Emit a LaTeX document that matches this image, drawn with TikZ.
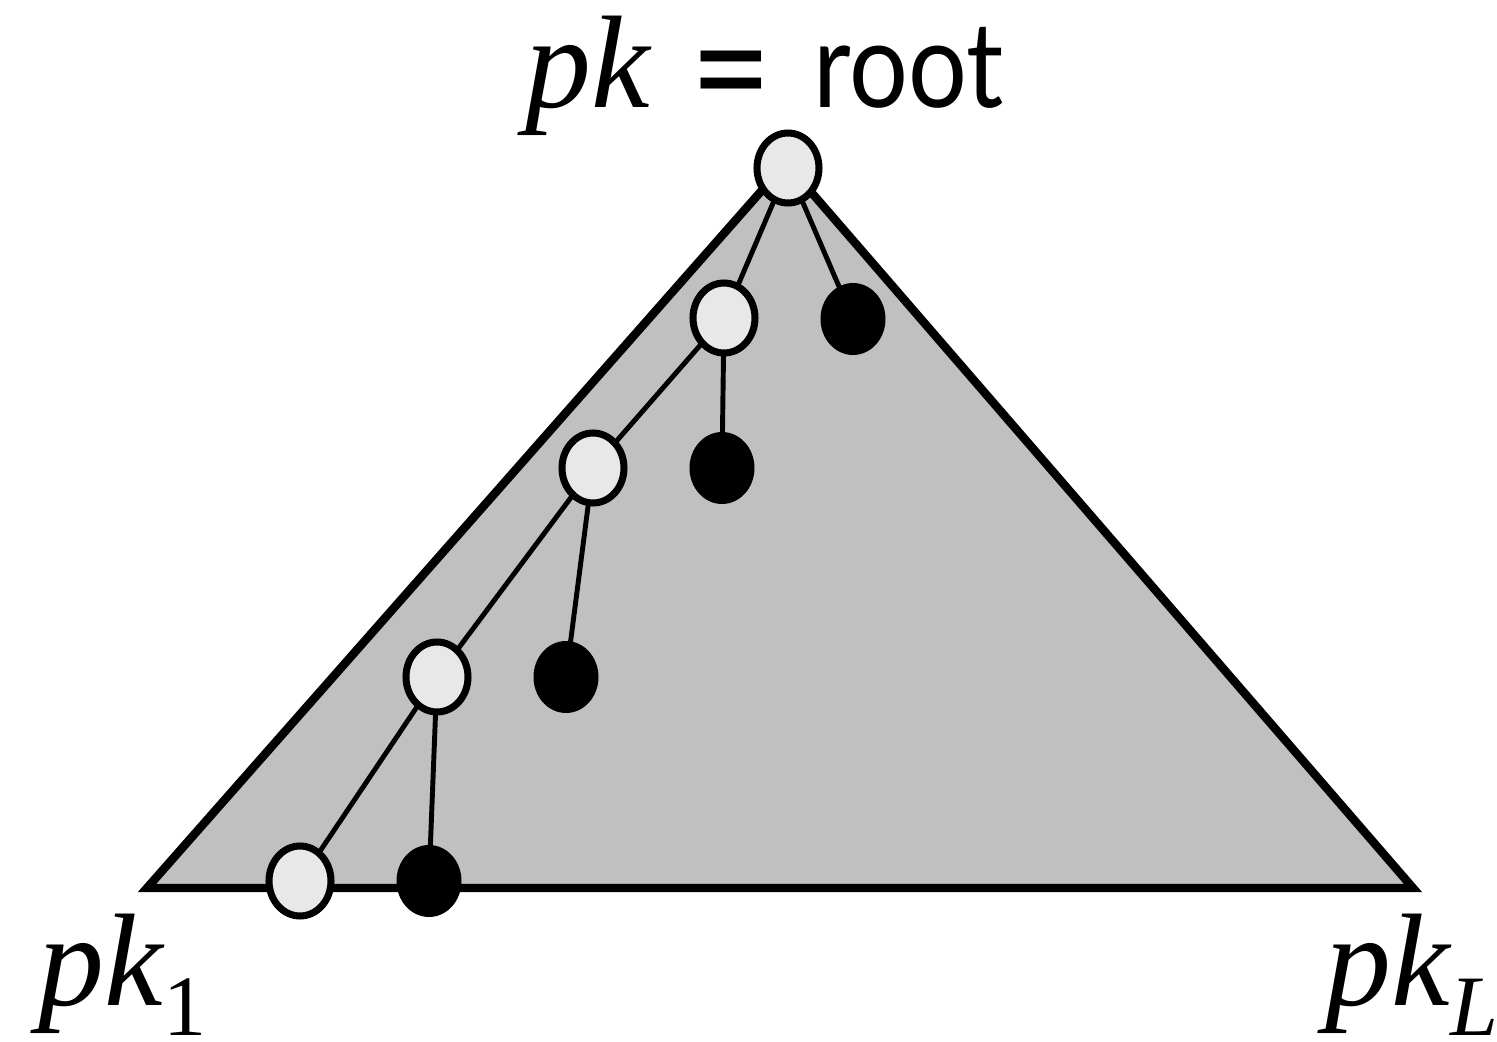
\documentclass[tikz,border=0pt]{standalone}
\usepackage{fontspec}
\setmainfont{Liberation Serif}
\newfontfamily\gsans[FakeStretch=0.87]{Lato}
\usetikzlibrary{shapes.geometric,backgrounds}
\definecolor{trigray}{RGB}{192,192,192}
\definecolor{nodegray}{RGB}{232,232,232}
\begin{document}
\begin{tikzpicture}[
  tri/.style={draw=black, line width=2.4pt, fill=trigray, line join=miter},
  opennode/.style={ellipse, draw=black, line width=2pt, fill=nodegray, minimum width=0.62cm, minimum height=0.70cm, inner sep=0pt},
  closednode/.style={ellipse, fill=black, minimum width=0.65cm, minimum height=0.72cm, inner sep=0pt},
  link/.style={line width=1.4pt},
  lbl/.style={anchor=base west, inner sep=0pt, font=\fontsize{37.5}{40}\selectfont}
]
\useasboundingbox (0,0) rectangle (14.97,10.41);
\coordinate (apex) at (7.86,8.78);
\coordinate (bl) at (1.47,1.53);
\coordinate (br) at (14.13,1.53);

\node[opennode] (root) at (7.88,8.73) {};
\node[opennode] (A) at (7.24,7.23) {};
\node[closednode] (a) at (8.53,7.22) {};
\node[opennode] (B) at (5.93,5.73) {};
\node[closednode] (b) at (7.22,5.73) {};
\node[opennode] (C) at (4.37,3.64) {};
\node[closednode] (c) at (5.66,3.64) {};
\node[opennode] (D) at (3.00,1.60) {};
\node[closednode] (d) at (4.29,1.60) {};

\begin{pgfonlayer}{background}
\draw[tri] (apex) -- (bl) -- (br) -- cycle;
\draw[link] (root.center) -- (A.center);
\draw[link] (root.center) -- (a.center);
\draw[link] (A.center) -- (B.center);
\draw[link] (A.center) -- (b.center);
\draw[link] (B.center) -- (C.center);
\draw[link] (B.center) -- (c.center);
\draw[link] (C.center) -- (D.center);
\draw[link] (C.center) -- (d.center);
\end{pgfonlayer}

\node[lbl] (title) at (5.25,9.33) {\itshape pk\upshape\hspace{0.4cm}\raisebox{-0.17cm}{\gsans\fontsize{46}{46}\selectfont =}\hspace{0.42cm}{\gsans\fontsize{34}{36}\selectfont root}};
\node[lbl] (pk1) at (0.38,0.36) {\itshape pk\upshape\raisebox{-0.23em}{\fontsize{24.5}{26}\selectfont 1}};
\node[lbl] (pkL) at (13.25,0.36) {\itshape pk\raisebox{-0.23em}{\fontsize{24.5}{26}\selectfont L}};
\end{tikzpicture}
\end{document}
